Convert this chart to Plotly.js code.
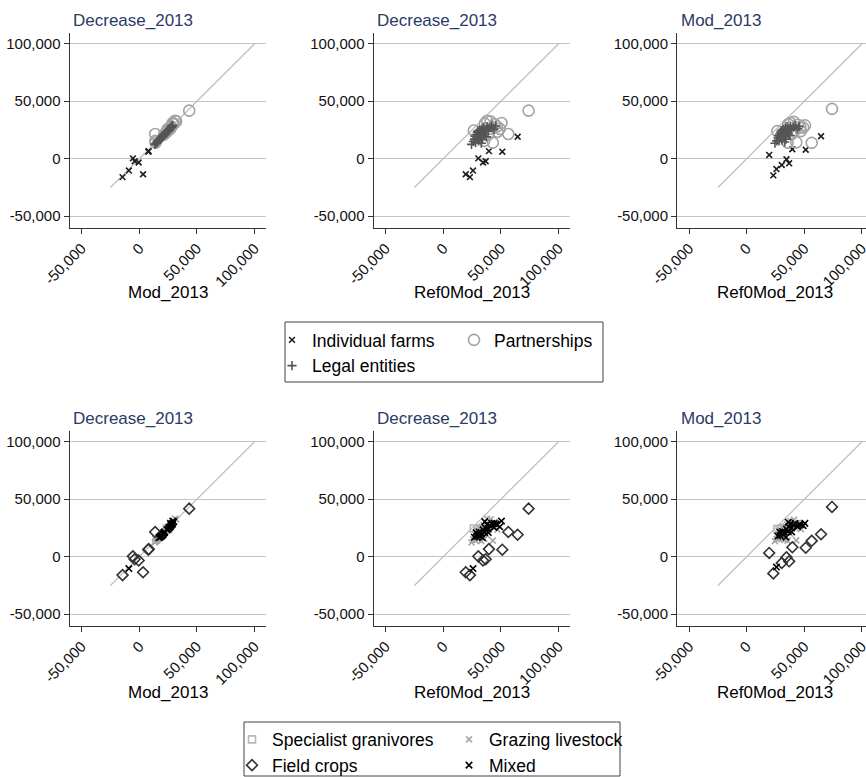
<!DOCTYPE html>
<html><head><meta charset="utf-8">
<script src="https://cdn.plot.ly/plotly-3.0.1.min.js"></script>
<style>html,body{margin:0;padding:0;background:#fff}#chart{width:866px;height:777px}</style>
</head><body><div id="chart"></div>
<script>
// ---- data: one entry per farm ----
const ref0mod_2013 = [64500,51200,39600,30400,36800,34500,25800,19500,23100,44000,
  74000,56400,43000,50500,46500,47000,41000,38000,36000,42000,39000,35500,26500,44500,49000,
  24500,26000,27000,27500,28000,28500,29000,29500,30000,30500,31000,31500,32000,32500,33000,
  33500,34000,34500,35000,36000,36500,37500,38000,39000,40500,42000,44000,45500,30000,33000];
const decrease_2013 = [19100,6100,6600,300,-2200,-3300,-10300,-13500,-16000,29000,
  41800,21500,14000,31000,28000,23500,32500,33000,30500,26000,21000,15500,24500,30000,26000,
  12500,15000,17000,19500,14000,21000,17500,23000,19000,15500,21500,25000,18000,22500,20000,
  26000,16500,23500,27500,21000,25000,19000,28000,24000,27000,29000,25500,28500,24000,13500];
const mod_2013 = [19500,7800,8200,-5500,-4000,-500,-9000,3300,-14500,27000,
  43300,13800,14200,29000,27500,24000,32000,31000,30000,25000,21500,14000,24000,29500,27000,
  13500,15500,18000,20000,15500,21500,18500,23000,20500,16000,22000,25500,19500,23000,21000,
  26500,17000,24000,28000,22000,26000,20000,28500,25000,27500,29000,26000,28000,24500,14500];
const legalForm = ['I','I','I','I','I','I','I','I','I','I',
  'P','P','P','P','P','P','P','P','P','P','P','P','P','P','P',
  'L','L','L','L','L','L','L','L','L','L','L','L','L','L','L',
  'L','L','L','L','L','L','L','L','L','L','L','L','L','L','L'];
const farmType = ['FC','FC','FC','FC','FC','FC','MX','FC','FC','MX',
  'FC','FC','GL','MX','MX','GL','GL','GL','MX','GL','MX','GL','SG','GL','MX',
  'GL','GL','MX','GL','GL','MX','MX','GL','MX','GL','MX','GL','MX','GL','MX',
  'GL','MX','MX','GL','MX','MX','GL','MX','MX','MX','MX','MX','MX','SG','GL'];
const legalCodes = ['I','P','L'];
const legalNames = ['Individual farms','Partnerships','Legal entities'];
const typeCodes = ['SG','GL','FC','MX'];
const typeNames = ['Specialist granivores','Grazing livestock','Field crops','Mixed'];
const xTitles = ['Mod_2013','Ref0Mod_2013','Ref0Mod_2013'];
const yTitles = ['Decrease_2013','Decrease_2013','Mod_2013'];
const tickVals = [-50000,0,50000,100000];
const tickText = ['-50,000','0','50,000','100,000'];
const diagonal = [-25000,100000];

// ---- layout geometry / styles ----
const W = 866, H = 777;
const fx = p => p / W, fy = p => 1 - p / H;
const colPx = [[69.5,266.1],[373.5,570.1],[677,866]];
const rowPx = [[32.8,227.7],[430.8,625.7]];
const xTitleY = [292, 692];
const yTitleY = [20.7, 418.5];
const xRanges = [[-60500,110000],[-60500,110000],[-60500,103500]];
const yRange = [-60000,109500];
const series = {mod: mod_2013, ref: ref0mod_2013, dec: decrease_2013};
const panelXY = [['mod','dec'],['ref','dec'],['ref','mod']];

const legalStyle = {
  I:{symbol:'x-thin-open',color:'#1e1e1e',size:5.8,legend:'legend'},
  P:{symbol:'circle-open',color:'#a3a3a3',size:11,legend:'legend2'},
  L:{symbol:'cross-thin-open',color:'#555555',size:6.5,legend:'legend'}
};
const typeStyle = {
  SG:{symbol:'square-open',color:'#b8b8b8',size:7,legend:'legend3'},
  GL:{symbol:'x-thin-open',color:'#a8a8a8',size:6,legend:'legend4'},
  FC:{symbol:'diamond-open',color:'#333333',size:8.3,legend:'legend3'},
  MX:{symbol:'x-thin-open',color:'#000000',size:6.4,legend:'legend4'}
};

const traces = [];
const layout = {
  width: W, height: H, margin:{l:0,r:0,t:0,b:0,autoexpand:false},
  paper_bgcolor:'#fff', plot_bgcolor:'#fff',
  font:{family:'Liberation Sans, Arial, sans-serif', color:'#000'},
  annotations: [], shapes: []
};

let ax = 0;
for (let row = 0; row < 2; row++) {
  const codes = row === 0 ? legalCodes : typeCodes;
  const names = row === 0 ? legalNames : typeNames;
  const groupArr = row === 0 ? legalForm : farmType;
  const styles = row === 0 ? legalStyle : typeStyle;
  for (let col = 0; col < 3; col++) {
    ax++;
    const xa = 'x' + (ax === 1 ? '' : ax), ya = 'y' + (ax === 1 ? '' : ax);
    const xk = 'xaxis' + (ax === 1 ? '' : ax), yk = 'yaxis' + (ax === 1 ? '' : ax);
    layout[xk] = {
      domain:[fx(colPx[col][0]), fx(colPx[col][1])], anchor: ya,
      range: xRanges[col], tickvals: tickVals, ticktext: tickText, tickangle: -45,
      ticklabeloverflow:'allow',
      showgrid:false, zeroline:false, showline:true, linecolor:'#333', linewidth:1,
      ticks:'outside', ticklen:5, tickcolor:'#333', tickfont:{size:15, color:'#111'},
      fixedrange:true
    };
    layout[yk] = {
      domain:[fy(rowPx[row][1]), fy(rowPx[row][0])], anchor: xa,
      range: yRange, tickvals: tickVals, ticktext: tickText,
      showgrid:true, gridcolor:'#c4c4c4', gridwidth:1.3, zeroline:false,
      showline:true, linecolor:'#333', linewidth:1,
      ticks:'outside', ticklen:5, tickcolor:'#333', tickfont:{size:15, color:'#111'},
      fixedrange:true
    };
    // panel title (y variable) and x-axis title
    layout.annotations.push({
      text: yTitles[col], xref:'paper', yref:'paper',
      x: fx(colPx[col][0] + 1.5), y: fy(yTitleY[row]),
      xanchor:'left', yanchor:'middle', showarrow:false,
      font:{size:17, color:'#2b3a67'}
    });
    layout.annotations.push({
      text: xTitles[col], xref:'paper', yref:'paper',
      x: fx((colPx[0][0] + colPx[0][1]) / 2 + (colPx[col][0] - colPx[0][0])), y: fy(xTitleY[row]),
      xanchor:'center', yanchor:'middle', showarrow:false,
      font:{size:17, color:'#000'}
    });
    traces.push({
      type:'scatter', mode:'lines', x: diagonal, y: diagonal, xaxis: xa, yaxis: ya,
      line:{color:'#bdbdbd', width:1.2}, showlegend:false, hoverinfo:'skip'
    });
    const [xKey, yKey] = panelXY[col];
    codes.forEach((code, gi) => {
      const xs = [], ys = [];
      groupArr.forEach((g, i) => { if (g === code) { xs.push(series[xKey][i]); ys.push(series[yKey][i]); } });
      const st = styles[code];
      traces.push({
        type:'scatter', mode:'markers', x: xs, y: ys, xaxis: xa, yaxis: ya,
        name: names[gi], legend: st.legend, showlegend: col === 0,
        marker:{symbol: st.symbol, size: st.size, color: st.color,
                line:{color: st.color, width:1.6}}
      });
    });
  }
}

const legendBase = {
  bgcolor:'rgba(0,0,0,0)', borderwidth:0, orientation:'v', traceorder:'normal',
  font:{size:17.5, color:'#000'}, xanchor:'left', yanchor:'top', itemclick:false, itemdoubleclick:false
};
layout.legend  = Object.assign({}, legendBase, {x: fx(272), y: fy(322)});
layout.legend2 = Object.assign({}, legendBase, {x: fx(454), y: fy(322)});
layout.legend3 = Object.assign({}, legendBase, {x: fx(232), y: fy(721.5)});
layout.legend4 = Object.assign({}, legendBase, {x: fx(449), y: fy(721.5)});

layout.shapes.push(
  {type:'rect', xref:'paper', yref:'paper', x0: fx(285), x1: fx(603), y0: fy(382), y1: fy(322),
   line:{color:'#444', width:1}},
  {type:'rect', xref:'paper', yref:'paper', x0: fx(244), x1: fx(620), y0: fy(776), y1: fy(722),
   line:{color:'#444', width:1}}
);

Plotly.newPlot('chart', traces, layout, {staticPlot:true, displayModeBar:false});
</script></body></html>
